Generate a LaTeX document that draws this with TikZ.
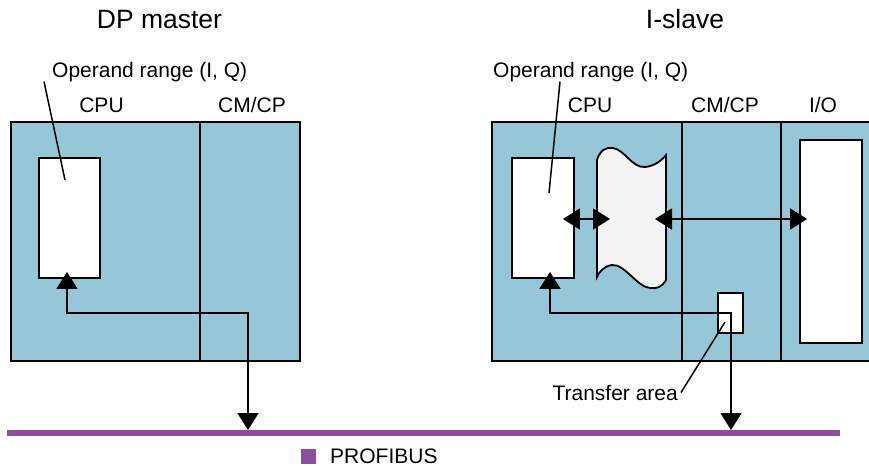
\documentclass[tikz,border=0pt]{standalone}
\usepackage{fontspec}
\setmainfont{Liberation Sans}
\usepackage{tikz}
\usetikzlibrary{arrows.meta}
\definecolor{modblue}{RGB}{150,199,216}
\definecolor{busviolet}{RGB}{139,79,160}
\definecolor{docgray}{RGB}{243,243,243}
\tikzset{
  moduleS/.style ={draw=black, fill=modblue, line width=1.8pt},
  areaS/.style   ={draw=black, fill=white, line width=1.8pt, inner sep=0pt},
  docS/.style    ={draw=black, fill=docgray, line width=1.8pt},
  linkS/.style   ={line width=1.8pt, >={Triangle[width=21pt,length=17pt]}, <->},
  pointerS/.style={line width=1.5pt},
  busS/.style    ={busviolet, line width=5.5pt},
  lbl/.style     ={font=\fontsize{21}{24}\selectfont, inner sep=0pt, anchor=base},
  ttl/.style     ={font=\fontsize{26.5}{30}\selectfont, inner sep=0pt, anchor=base},
}

\begin{document}
\begin{tikzpicture}[x=1pt, y=-1pt]
  \clip (0,0) rectangle (869,469);
  % DP master
  \node[ttl] (mtitle) at (159.5,28) {DP master};
  \node[lbl, anchor=base west] (mlab) at (52,77) {Operand range (I, Q)};
  \node[lbl] (mcpulab) at (101.5,112) {CPU};
  \node[lbl] (mcmlab) at (252,112) {CM/CP};
  \draw[moduleS] (11,122) rectangle (200,361);
  \draw[moduleS] (200,122) rectangle (300,361);
  \node[areaS, minimum width=61pt, minimum height=120pt] (mop) at (69.5,218) {};
  \coordinate (mpt) at (65,180);
  \draw[pointerS] ([xshift=-8pt]mlab.south west) -- (mpt);
  % I-slave
  \node[ttl] (stitle) at (685,28) {I-slave};
  \node[lbl, anchor=base west] (slab) at (493,77) {Operand range (I, Q)};
  \node[lbl] (scpulab) at (590,112) {CPU};
  \node[lbl] (scmlab) at (725,112) {CM/CP};
  \node[lbl] (siolab) at (823,112) {I/O};
  \draw[moduleS] (492,122) rectangle (682,361);
  \draw[moduleS] (682,122) rectangle (781,361);
  \draw[moduleS] (781,122) rectangle (890,361);
  \node[areaS, minimum width=62pt, minimum height=120pt] (sop) at (543,218) {};
  \node[areaS, minimum width=62pt, minimum height=203pt] (sio) at (831,241.5) {};
  \node[areaS, minimum width=25pt, minimum height=40pt] (xfer) at (730.5,313) {};
  \draw[docS] (597,160) .. controls (600,150) and (606,147) .. (613,148)
    .. controls (625,150) and (632,168) .. (645,167)
    .. controls (655,166) and (662,160) .. (666,155) -- (666,280)
    .. controls (662,287) and (657,289) .. (650,288)
    .. controls (637,287) and (625,264) .. (612,265)
    .. controls (604,266) and (599,272) .. (597,277) -- cycle;
  \coordinate (docW) at (597,219);
  \coordinate (docE) at (666,219);
  \coordinate (spt) at (549,193);
  \draw[pointerS] ([xshift=67pt]slab.south west) -- (spt);
  % bus and legend
  \coordinate (busW) at (7,433);
  \coordinate (busE) at (840,433);
  \draw[busS] (busW) -- (busE);
  \node[fill=busviolet, minimum size=15pt, inner sep=0pt] (legsq) at (308,456) {};
  \node[lbl, anchor=base west] (leglab) at (330,463) {PROFIBUS};
  % connectors
  \coordinate (mbend) at (248,313);
  \coordinate (mtap) at (248,430);
  \draw[linkS, shorten <=-7pt] ([xshift=-2.5pt]mop.south) |- (mbend) -- (mtap);
  \draw[linkS, shorten <=-12pt, shorten >=-13pt] (sop.east |- docW) -- (docW);
  \draw[linkS, shorten <=-11pt, shorten >=-8pt] (docE) -- (sio.west |- docE);
  \coordinate (sbend) at (731,313);
  \coordinate (stap) at (731,430);
  \draw[linkS, shorten <=-7pt] ([xshift=7pt]sop.south) |- (sbend) -- (stap);
  \node[lbl, anchor=base east] (tlab) at (678,400) {Transfer area};
  \coordinate (tpt) at (725,322);
  \draw[pointerS] ([xshift=3pt]tlab.east) -- (tpt);
\end{tikzpicture}
\end{document}
